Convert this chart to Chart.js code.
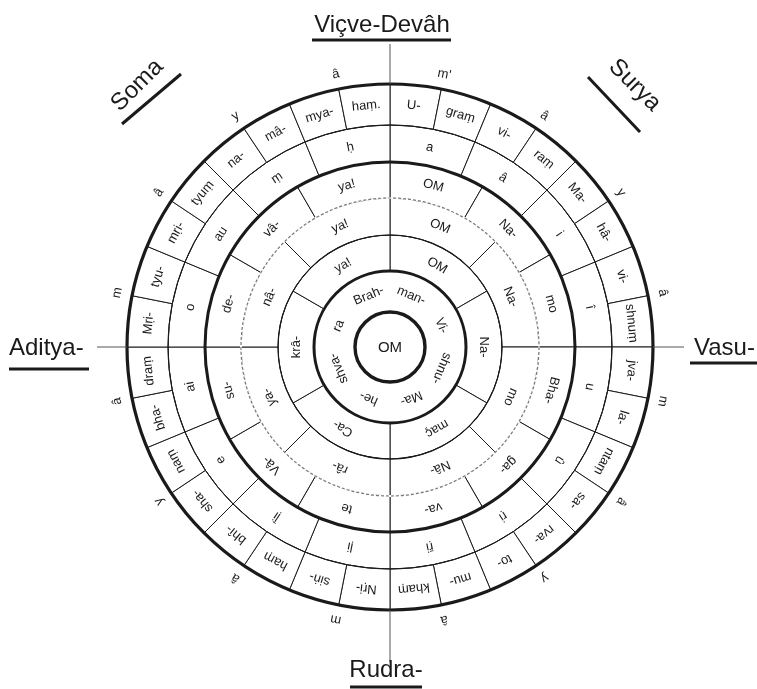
<!DOCTYPE html>
<html>
<head>
<meta charset="utf-8">
<script src="https://cdn.jsdelivr.net/npm/chart.js@4"></script>
<style>
  html, body { margin: 0; background: #fff; }
  #wrap { width: 757px; height: 689px; }
</style>
</head>
<body>
<div id="wrap"><canvas id="mandala"></canvas></div>
<script>
// Rings listed outside-in, each syllable sits in an equal slice.
const outerLetters = ["m'", 'â', 'y', 'â', 'm', 'â', 'y', 'â', 'm', 'â', 'y', 'â', 'm', 'â', 'y', 'â'];
const outerSizes = [1, 1, 1, 1, 1, 1, 1, 1, 1, 1, 1, 1, 1, 1, 1, 1];

const mantraSyllables = ['U-', 'graṃ', 'vi-', 'raṃ', 'Ma-', 'hâ-', 'vi-', 'shnuṃ',
  'jva-', 'la-', 'ntaṃ', 'sa-', 'rva-', 'to-', 'mu-', 'khaṃ',
  'Nṛi-', 'siṅ-', 'haṃ', 'bhî-', 'sha-', 'naṃ', 'bha-', 'draṃ',
  'Mṛi-', 'tyu-', 'mṛi-', 'tyuṃ', 'na-', 'mâ-', 'mya-', 'haṃ.'];
const mantraSizes = [1, 1, 1, 1, 1, 1, 1, 1, 1, 1, 1, 1, 1, 1, 1, 1,
  1, 1, 1, 1, 1, 1, 1, 1, 1, 1, 1, 1, 1, 1, 1, 1];

const vowels = ['a', 'â', 'i', 'î', 'u', 'û', 'ṛi', 'ṝi', 'ḷi', 'ḹi', 'e', 'ai', 'o', 'au', 'ṃ', 'ḥ'];
const vowelSizes = [1, 1, 1, 1, 1, 1, 1, 1, 1, 1, 1, 1, 1, 1, 1, 1];

const vasudeva = ['OM', 'Na-', 'mo', 'Bha-', 'ga-', 'va-', 'te', 'Vâ-', 'su-', 'de-', 'vâ-', 'ya!'];
const vasudevaSizes = [1, 1, 1, 1, 1, 1, 1, 1, 1, 1, 1, 1];

const narayana = ['OM', 'Na-', 'mo', 'Nâ-', 'râ-', 'ya-', 'nâ-', 'ya!'];
const narayanaSizes = [1, 1, 1, 1, 1, 1, 1, 1];

const chakra = ['OM', 'Na-', 'maç', 'Ca-', 'krâ-', 'ya!'];
const chakraSizes = [1, 1, 1, 1, 1, 1];

const trimurti = ['Brah-', 'man-', 'Vi-', 'shnu-', 'Ma-', 'he-', 'shva-', 'ra'];
const trimurtiSizes = [1, 1, 1, 1, 1, 1, 1, 1];

const centreWord = 'OM';

// Quarter names round the wheel.
const quarterNames = ['Viçve-Devâh', 'Vasu-', 'Rudra-', 'Aditya-', 'Surya', 'Soma'];

const INK = '#1a1a1a';
const FONT = '"Liberation Sans", "DejaVu Sans", Arial, sans-serif';

function ring(words, sizes, weight, extra) {
  return Object.assign({
    data: sizes,
    words,
    weight,
    backgroundColor: '#fff',
    borderColor: INK,
    borderWidth: 1,
  }, extra || {});
}

const datasets = [
  ring(outerLetters, outerSizes, 30, { backgroundColor: 'rgba(0,0,0,0)', borderWidth: 0 }),
  ring(mantraSyllables, mantraSizes, 41),
  ring(vowels, vowelSizes, 37),
  ring(vasudeva, vasudevaSizes, 36),
  ring(narayana, narayanaSizes, 37),
  ring(chakra, chakraSizes, 36),
  ring(trimurti, trimurtiSizes, 41, { borderWidth: 0, rotation: 315 }),
];

// Circle weights: [dataset, which edge, line width, colour]
const circleStyles = [
  [1, 'outer', 3.2, INK],
  [1, 'inner', 1, INK],
  [2, 'inner', 3, INK],
  [3, 'inner', 1.2, '#777'],
  [4, 'inner', 1.1, INK],
  [5, 'inner', 3, INK],
  [6, 'inner', 3.4, INK],
];

const wheelText = {
  id: 'wheelText',
  afterDatasetsDraw(chart) {
    const ctx = chart.ctx;
    let cx = 0, cy = 0;

    // ring circles, over the thin arc borders
    circleStyles.forEach(([di, edge, w, col]) => {
      const arc = chart.getDatasetMeta(di).data[0];
      const r = edge === 'outer' ? arc.outerRadius : arc.innerRadius;
      ctx.save();
      if (col !== INK) {
        ctx.strokeStyle = '#fff';
        ctx.lineWidth = 2;
        ctx.beginPath(); ctx.arc(arc.x, arc.y, r, 0, Math.PI * 2); ctx.stroke();
        ctx.setLineDash([3, 2]);
      }
      ctx.strokeStyle = col;
      ctx.lineWidth = w;
      ctx.beginPath(); ctx.arc(arc.x, arc.y, r, 0, Math.PI * 2); ctx.stroke();
      ctx.restore();
      cx = arc.x; cy = arc.y;
    });

    // syllables, tops turned outward
    ctx.save();
    ctx.fillStyle = INK;
    ctx.textAlign = 'center';
    ctx.textBaseline = 'middle';
    chart.data.datasets.forEach((ds, di) => {
      ctx.font = '13px ' + FONT;
      chart.getDatasetMeta(di).data.forEach((arc, j) => {
        const a = (arc.startAngle + arc.endAngle) / 2;
        const r = (arc.innerRadius + arc.outerRadius) / 2;
        ctx.save();
        ctx.translate(arc.x + Math.cos(a) * r, arc.y + Math.sin(a) * r);
        ctx.rotate(a + Math.PI / 2);
        ctx.fillText(ds.words[j], 0, 0);
        ctx.restore();
      });
    });
    ctx.font = '15px ' + FONT;
    ctx.fillText(centreWord, cx, cy + 1);
    ctx.restore();

    // axis lines outside the wheel
    const rim = chart.getDatasetMeta(1).data[0].outerRadius;
    ctx.save();
    ctx.strokeStyle = '#555';
    ctx.lineWidth = 1;
    ctx.beginPath();
    ctx.moveTo(cx, 44); ctx.lineTo(cx, cy - rim);
    ctx.moveTo(cx, cy + rim); ctx.lineTo(cx, 662);
    ctx.moveTo(97, cy); ctx.lineTo(cx - rim, cy);
    ctx.moveTo(cx + rim, cy); ctx.lineTo(684, cy);
    ctx.stroke();

    // quarter names with their underlines
    ctx.fillStyle = INK;
    ctx.strokeStyle = INK;
    ctx.lineWidth = 3;
    ctx.font = '24px ' + FONT;
    ctx.textBaseline = 'alphabetic';
    const line = (x1, y1, x2, y2) => { ctx.beginPath(); ctx.moveTo(x1, y1); ctx.lineTo(x2, y2); ctx.stroke(); };

    ctx.textAlign = 'center';
    ctx.fillText(quarterNames[0], 382, 32);
    line(312, 40, 451, 40);
    ctx.fillText(quarterNames[2], 386, 677);
    line(350, 687, 422, 687);
    ctx.textAlign = 'left';
    ctx.fillText(quarterNames[3], 9, 355);
    line(9, 369, 89, 369);
    ctx.fillText(quarterNames[1], 694, 355);
    line(690, 363, 757, 363);

    ctx.textAlign = 'center';
    ctx.save();
    ctx.translate(142, 90); ctx.rotate(-Math.PI / 4);
    ctx.fillText(quarterNames[5], 0, 0);
    ctx.restore();
    line(122, 124, 181, 74);
    ctx.save();
    ctx.translate(630, 90); ctx.rotate(Math.PI / 4);
    ctx.fillText(quarterNames[4], 0, 0);
    ctx.restore();
    line(588, 77, 640, 132);
    ctx.restore();
  }
};

new Chart(document.getElementById('mandala'), {
  type: 'doughnut',
  data: { labels: mantraSyllables, datasets },
  options: {
    responsive: true,
    maintainAspectRatio: false,
    animation: false,
    events: [],
    radius: 293,
    cutout: (35 / 293 * 100) + '%',
    layout: { padding: { left: 23, right: 0, top: 5, bottom: 0 } },
    plugins: { legend: { display: false }, tooltip: { enabled: false } },
  },
  plugins: [wheelText],
});
</script>
</body>
</html>
